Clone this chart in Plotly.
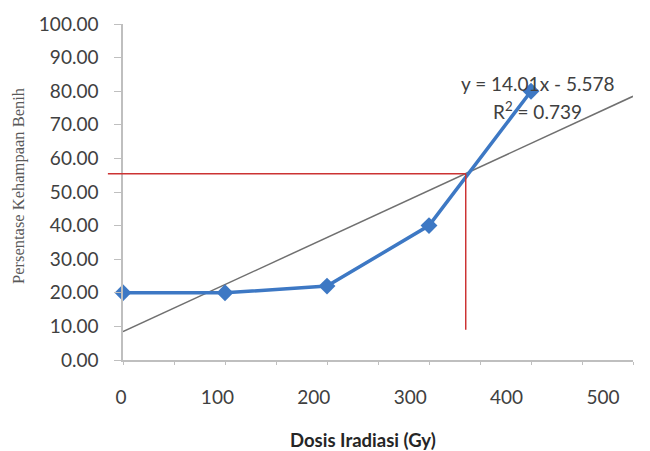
import plotly.graph_objects as go

# ---- data ----
dose = [0, 100, 200, 300, 400]
hampa = [20.0, 20.0, 22.0, 40.0, 80.0]
x_tick_vals = [0, 100, 200, 300, 400, 500]
x_tick_text = ["0", "100", "200", "300", "400", "500"]
y_tick_vals = [0, 10, 20, 30, 40, 50, 60, 70, 80, 90, 100]
# Excel linear trendline (x = point index 1..n)
slope = 14.01
intercept = -5.578
r2 = 0.739
trend_x = [0, 500]
trend_y = [slope * (v / 100 + 1) + intercept for v in trend_x]
# reference lines
ref_x = 336
ref_y = 55.4
ref_y_bottom = 9

FONT = "Lato, 'Open Sans', sans-serif"
TXT = "#404040"
AX = "#bfbfbf"

xdom = [13 / 530, 523 / 530]
xdom2 = [11 / 530, 493 / 530]

fig = go.Figure()

# label-only axis trace
fig.add_trace(go.Scatter(
    x=x_tick_vals, y=[None] * len(x_tick_vals), xaxis="x2", yaxis="y",
    mode="markers", showlegend=False, hoverinfo="skip"))

fig.add_trace(go.Scatter(
    x=trend_x, y=trend_y, mode="lines",
    line=dict(color="#707070", width=1.5),
    showlegend=False, hoverinfo="skip"))

fig.add_trace(go.Scatter(
    x=dose, y=hampa, mode="lines+markers", cliponaxis=False,
    line=dict(color="#3d78c4", width=3.5),
    marker=dict(symbol="diamond", size=13, color="#3d78c4"),
    showlegend=False))

# reference red lines
x1_paper = xdom[0] + (ref_x / 500) * (xdom[1] - xdom[0])
fig.add_shape(type="line", xref="paper", yref="y",
              x0=-0.004, x1=x1_paper, y0=ref_y, y1=ref_y,
              line=dict(color="#cc3333", width=1.5))
fig.add_shape(type="line", xref="x", yref="y",
              x0=ref_x, x1=ref_x, y0=ref_y, y1=ref_y_bottom,
              line=dict(color="#cc3333", width=1.5))

fig.add_annotation(x=406, y=82.4, xref="x", yref="y",
                   text=f"y = {slope}x - {abs(intercept)}", showarrow=False,
                   xanchor="center", yanchor="middle",
                   font=dict(family=FONT, size=19, color=TXT))
fig.add_annotation(x=406, y=74.4, xref="x", yref="y",
                   text=f"R<sup>2</sup> = {r2}", showarrow=False,
                   xanchor="center", yanchor="middle",
                   font=dict(family=FONT, size=19, color=TXT))

fig.add_annotation(x=(363 - 110) / 530, y=(360 - 440) / 336, xref="paper", yref="paper",
                   text="<b>Dosis Iradiasi (Gy)</b>", showarrow=False,
                   xanchor="center", yanchor="middle",
                   font=dict(family=FONT, size=18.5, color="#262626"))
fig.add_annotation(x=(19 - 110) / 530, y=(360 - 186) / 336, xref="paper", yref="paper",
                   text="Persentase Kehampaan Benih", showarrow=False, textangle=-90,
                   xanchor="center", yanchor="middle",
                   font=dict(family="'Liberation Serif', 'Times New Roman', serif", size=16.5, color="#595959"))

fig.update_layout(
    width=642, height=443,
    margin=dict(l=102, r=10, t=16, b=91, autoexpand=False),
    paper_bgcolor="white", plot_bgcolor="rgba(0,0,0,0)",
    xaxis=dict(domain=xdom, range=[0, 500], showgrid=False, zeroline=False,
               showline=True, linecolor=AX, linewidth=1.5, automargin=False,
               ticks="outside", ticklen=3, tickcolor=AX, dtick=50, tick0=0,
               showticklabels=False, anchor="y"),
    xaxis2=dict(domain=xdom2, range=[0, 500], showgrid=False, zeroline=False,
                showline=False, ticks="", tickvals=x_tick_vals, ticktext=x_tick_text,
                anchor="y", side="bottom", ticklabelstandoff=24, automargin=False,
                tickfont=dict(family=FONT, size=19, color=TXT)),
    yaxis=dict(domain=[0, 1], range=[0, 100], showgrid=False, zeroline=False,
               showline=True, linecolor=AX, linewidth=1.5, automargin=False,
               ticks="outside", ticklen=7, tickcolor=AX,
               tickvals=y_tick_vals, tickformat=".2f", ticklabelstandoff=12,
               tickfont=dict(family=FONT, size=19, color=TXT), anchor="x"),
)

fig.write_html("out.html")
